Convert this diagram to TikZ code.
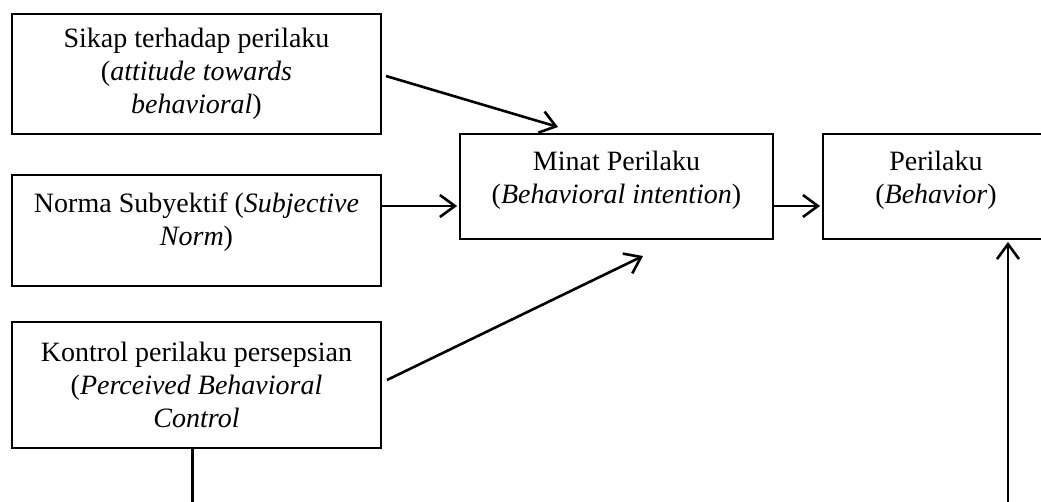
\documentclass[tikz,border=0pt]{standalone}
\usepackage{fontspec}
\setmainfont{Liberation Serif}
\usetikzlibrary{arrows.meta}

\begin{document}
\begin{tikzpicture}[x=0.5pt, y=-0.5pt,
		kotak/.style={draw, line width=0.9pt, inner sep=0pt, align=center,
			font=\fontsize{14}{16.5}\selectfont},
		panah/.style={line width=1.3pt, -{Straight Barb[length=7.5pt, width=11pt, line width=1.3pt]}}]
		\clip (0,0) rectangle (1041,502);
		
		\node[kotak, minimum width=184.5pt, minimum height=60pt] (sikap) at (196.5,74)
			{Sikap terhadap perilaku\\(\textit{attitude towards}\\\textit{behavioral})};
		\node[kotak, minimum width=184.5pt, minimum height=55.5pt] (norma) at (196.5,230.5)
			{Norma Subyektif (\textit{Subjective}\\\textit{Norm})\\[-5pt]\mbox{}};
		\node[kotak, minimum width=184.5pt, minimum height=63pt] (kontrol) at (196.5,385)
			{Kontrol perilaku persepsian\\(\textit{Perceived Behavioral}\\\textit{Control}};
		\node[kotak, minimum width=156.5pt, minimum height=52.5pt] (minat) at (616.5,186.5)
			{Minat Perilaku\\(\textit{Behavioral intention})\\[-7pt]\mbox{}};
		\node[kotak, minimum width=113pt, minimum height=52.5pt] (perilaku) at (936,186.5)
			{Perilaku\\(\textit{Behavior})\\[-7pt]\mbox{}};
		
		\coordinate (s1) at (386,76);
		\coordinate (s2) at (558,127);
		\coordinate (k1) at (387,380);
		\coordinate (k2) at (643,256);
		\coordinate (garis) at (0,206);
		\coordinate (bawah) at (0,502);
		
		\draw[panah] (s1) -- (s2);
		\draw[panah] (norma.east |- garis) -- ([xshift=-1pt]minat.west |- garis);
		\draw[panah] (minat.east |- garis) -- ([xshift=-1pt]perilaku.west |- garis);
		\draw[panah] (k1) -- (k2);
		\draw[line width=1.3pt] ([xshift=-2pt]kontrol.south) -- ([xshift=-2pt]kontrol.south |- bawah);
		\draw[panah] (1008,502) -- ([yshift=-1pt]perilaku.south -| 1008,0);
	\end{tikzpicture}
\end{document}
